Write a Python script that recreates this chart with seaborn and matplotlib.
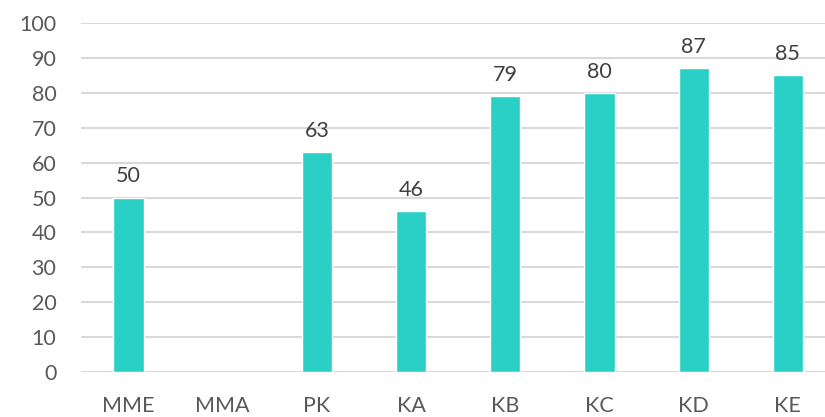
import numpy as np
import pandas as pd
import matplotlib
matplotlib.use("Agg")
import matplotlib.pyplot as plt
import seaborn as sns

# chart data
categories = ["MME", "MMA", "PK", "KA", "KB", "KC", "KD", "KE"]
values = [50, np.nan, 63, 46, 79, 80, 87, 85]
y_ticks = list(range(0, 101, 10))

df = pd.DataFrame({"group": categories, "score": values})

sns.set_theme(style="white")
plt.rcParams["font.family"] = ["Lato", "DejaVu Sans"]

fig = plt.figure(figsize=(8.25, 4.17), dpi=100)
ax = fig.add_axes([81.4 / 825, 1 - 372 / 417, (835 - 81.4) / 825, (372 - 23) / 417])

sns.barplot(data=df, x="group", y="score", order=categories, color="#2AD0C5",
            saturation=1, width=0.32, ax=ax, zorder=3)

# value labels above the bars (seaborn leaves None for the missing bar)
for bar in ax.patches:
    h = bar.get_height()
    if np.isnan(h):
        continue
    ax.annotate(f"{h:.0f}", (bar.get_x() + bar.get_width() / 2, h),
                xytext=(0, 8), textcoords="offset points",
                ha="center", va="bottom", fontsize=15.5, color="#404040")

ax.set_ylim(0, 100)
ax.set_yticks(y_ticks)
ax.yaxis.grid(True, color="#d9d9d9", linewidth=1.5, zorder=0)
ax.set_axisbelow(True)
for s in ax.spines.values():
    s.set_visible(False)
ax.tick_params(axis="y", length=0, pad=18, labelsize=15.5, labelcolor="#595959")
ax.tick_params(axis="x", length=0, pad=17, labelsize=15.5, labelcolor="#595959")
ax.set_xlabel("")
ax.set_ylabel("")

fig.savefig("out.png", dpi=100)
